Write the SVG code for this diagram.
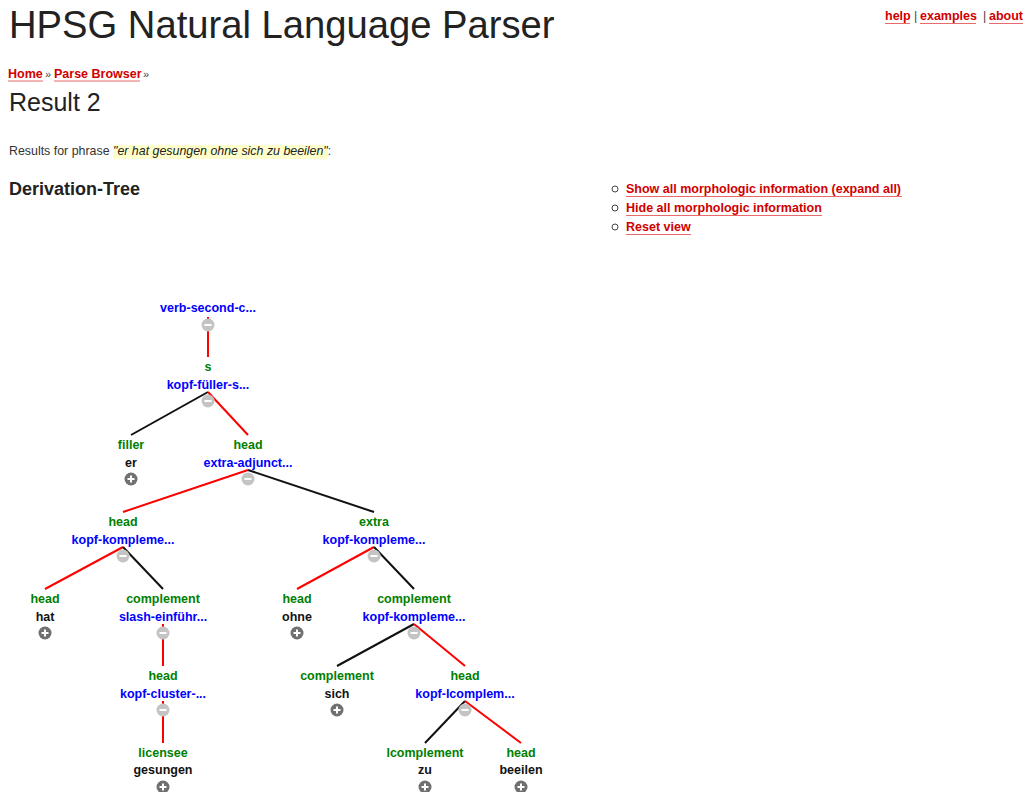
<svg xmlns="http://www.w3.org/2000/svg" width="1025" height="792" viewBox="0 0 1025 792">
<defs>
<style>
text{font-family:"Liberation Sans",Arial,sans-serif}
.lnk{font-size:12.5px;font-weight:bold;fill:#d00000}
.ul{stroke:#e86a6a;stroke-width:1}
.sep{font-size:12.5px;fill:#444}
.raq{font-size:11px;fill:#444}
.lab{font-size:12.5px;font-weight:bold;fill:#008000;text-anchor:middle}
.nm{font-size:12.5px;font-weight:bold;fill:#0000ff;text-anchor:middle}
.wd{font-size:12.5px;font-weight:bold;fill:#111;text-anchor:middle}
.er{stroke:#ff0000;stroke-width:2;fill:none}
.eb{stroke:#111;stroke-width:2;fill:none}
</style>
<g id="minus"><circle r="6.5" fill="#c4c4c4"/><rect x="-3.5" y="-1" width="7" height="2" fill="#fff"/></g>
<g id="plus"><circle r="6.5" fill="#707070"/><rect x="-3.5" y="-1" width="7" height="2" fill="#fff"/><rect x="-1" y="-3.5" width="2" height="7" fill="#fff"/></g>
</defs>
<rect width="1025" height="792" fill="#fff"/>

<g id="header">
<text x="9" y="38" font-size="38.2" fill="#222">HPSG Natural Language Parser</text>
<text class="lnk" x="885" y="20">help</text><line class="ul" x1="885" y1="23.5" x2="910" y2="23.5"/>
<text class="sep" x="914" y="20">|</text>
<text class="lnk" x="920" y="20">examples</text><line class="ul" x1="920" y1="23.5" x2="976" y2="23.5"/>
<text class="sep" x="983" y="20">|</text>
<text class="lnk" x="989" y="20">about</text><line class="ul" x1="989" y1="23.5" x2="1023" y2="23.5"/>
<text class="lnk" x="8" y="78">Home</text><line class="ul" x1="8" y1="81" x2="43" y2="81"/>
<text class="raq" x="45" y="78">»</text>
<text class="lnk" x="54" y="78">Parse Browser</text><line class="ul" x1="54" y1="81" x2="140" y2="81"/>
<text class="raq" x="143" y="78">»</text>
<text x="9" y="111" font-size="25" fill="#222">Result 2</text>
<rect x="113" y="145" width="215" height="14" fill="#ffffcc"/>
<text x="9" y="155" font-size="12.4" fill="#333">Results for phrase <tspan font-style="italic" fill="#222">"er hat gesungen ohne sich zu beeilen"</tspan>:</text>
<text x="9" y="195" font-size="18" font-weight="bold" fill="#222">Derivation-Tree</text>
</g>

<g id="options">
<circle cx="615" cy="189" r="3" fill="none" stroke="#444" stroke-width="1"/>
<circle cx="615" cy="208" r="3" fill="none" stroke="#444" stroke-width="1"/>
<circle cx="615" cy="227" r="3" fill="none" stroke="#444" stroke-width="1"/>
<text class="lnk" x="626" y="193">Show all morphologic information (expand all)</text><line class="ul" x1="626" y1="196.5" x2="902" y2="196.5"/>
<text class="lnk" x="626" y="212">Hide all morphologic information</text><line class="ul" x1="626" y1="215.5" x2="822" y2="215.5"/>
<text class="lnk" x="626" y="231">Reset view</text><line class="ul" x1="626" y1="234.5" x2="691" y2="234.5"/>
</g>

<g id="connectors">
<line class="er" x1="208" y1="317" x2="208" y2="357"/>
<line class="eb" x1="208" y1="392" x2="131" y2="435"/>
<line class="er" x1="208" y1="392" x2="248" y2="435"/>
<line class="er" x1="248" y1="470" x2="123" y2="512"/>
<line class="eb" x1="248" y1="470" x2="374" y2="512"/>
<line class="er" x1="123" y1="547" x2="45" y2="589"/>
<line class="eb" x1="123" y1="547" x2="163" y2="589"/>
<line class="er" x1="374" y1="547" x2="297" y2="589"/>
<line class="eb" x1="374" y1="547" x2="414" y2="589"/>
<line class="er" x1="163" y1="624" x2="163" y2="666"/>
<line class="eb" x1="414" y1="624" x2="337" y2="666"/>
<line class="er" x1="414" y1="624" x2="465" y2="666"/>
<line class="er" x1="163" y1="701" x2="163" y2="743"/>
<line class="eb" x1="465" y1="701" x2="425" y2="743"/>
<line class="er" x1="465" y1="701" x2="521" y2="743"/>
</g>

<g id="n-root"><text class="nm" x="208" y="312">verb-second-c...</text><use href="#minus" x="208" y="325"/></g>
<g id="n-s"><text class="lab" x="208" y="371">s</text><text class="nm" x="208" y="389">kopf-füller-s...</text><use href="#minus" x="208" y="401"/></g>
<g id="n-er"><text class="lab" x="131" y="449">filler</text><text class="wd" x="131" y="467">er</text><use href="#plus" x="131" y="479"/></g>
<g id="n-extra-adjunct"><text class="lab" x="248" y="449">head</text><text class="nm" x="248" y="467">extra-adjunct...</text><use href="#minus" x="248" y="479"/></g>
<g id="n-kk1"><text class="lab" x="123" y="526">head</text><text class="nm" x="123" y="544">kopf-kompleme...</text><use href="#minus" x="123" y="556"/></g>
<g id="n-kk2"><text class="lab" x="374" y="526">extra</text><text class="nm" x="374" y="544">kopf-kompleme...</text><use href="#minus" x="374" y="556"/></g>
<g id="n-hat"><text class="lab" x="45" y="603">head</text><text class="wd" x="45" y="621">hat</text><use href="#plus" x="45" y="633"/></g>
<g id="n-slash"><text class="lab" x="163" y="603">complement</text><text class="nm" x="163" y="621">slash-einführ...</text><use href="#minus" x="163" y="633"/></g>
<g id="n-ohne"><text class="lab" x="297" y="603">head</text><text class="wd" x="297" y="621">ohne</text><use href="#plus" x="297" y="633"/></g>
<g id="n-kk3"><text class="lab" x="414" y="603">complement</text><text class="nm" x="414" y="621">kopf-kompleme...</text><use href="#minus" x="414" y="633"/></g>
<g id="n-cluster"><text class="lab" x="163" y="680">head</text><text class="nm" x="163" y="698">kopf-cluster-...</text><use href="#minus" x="163" y="710"/></g>
<g id="n-sich"><text class="lab" x="337" y="680">complement</text><text class="wd" x="337" y="698">sich</text><use href="#plus" x="337" y="710"/></g>
<g id="n-lcomplem"><text class="lab" x="465" y="680">head</text><text class="nm" x="465" y="698">kopf-lcomplem...</text><use href="#minus" x="465" y="710"/></g>
<g id="n-gesungen"><text class="lab" x="163" y="757">licensee</text><text class="wd" x="163" y="774">gesungen</text><use href="#plus" x="163" y="787"/></g>
<g id="n-zu"><text class="lab" x="425" y="757">lcomplement</text><text class="wd" x="425" y="774">zu</text><use href="#plus" x="425" y="787"/></g>
<g id="n-beeilen"><text class="lab" x="521" y="757">head</text><text class="wd" x="521" y="774">beeilen</text><use href="#plus" x="521" y="787"/></g>
</svg>
